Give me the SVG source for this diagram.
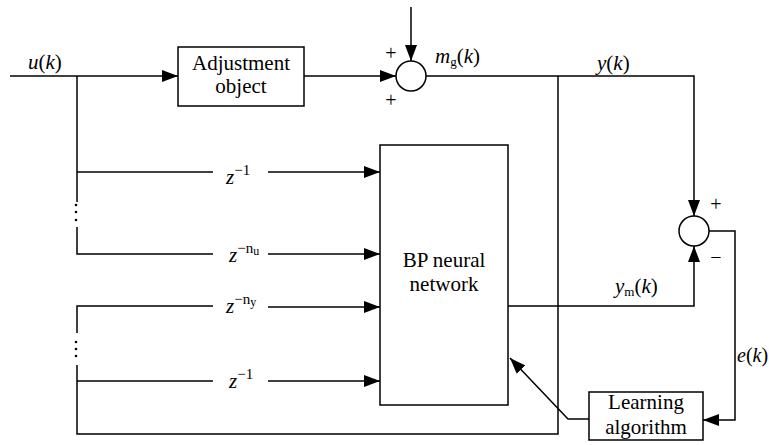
<svg xmlns="http://www.w3.org/2000/svg" width="769" height="445" viewBox="0 0 769 445">
<defs>
<marker id="arr" markerWidth="16" markerHeight="12" refX="16" refY="6" orient="auto" markerUnits="userSpaceOnUse">
<path d="M0,0 L16,6 L0,12 z" fill="#000"/>
</marker>
<style>
.ln{fill:none;stroke:#000;stroke-width:1.5}
.bx{fill:#fff;stroke:#000;stroke-width:1.5}
.t{font-size:21px}
.m{font-size:21px;font-style:italic}
.p{font-size:20px}
.dot{fill:#000}
</style>
</defs>
<rect width="769" height="445" fill="#fff"/>
<g id="connectors">
<polyline class="ln" points="10,76 178,76" marker-end="url(#arr)"/>
<line class="ln" x1="304" y1="76" x2="396" y2="76" marker-end="url(#arr)"/>
<line class="ln" x1="411" y1="7" x2="411" y2="61" marker-end="url(#arr)"/>
<polyline class="ln" points="426,76 694,76 694,216" marker-end="url(#arr)"/>
<polyline class="ln" points="558,76 558,434 77,434 77,365"/>
<polyline class="ln" points="77,76 77,202"/>
<polyline class="ln" points="77,227 77,254 213,254"/>
<line class="ln" x1="77" y1="172" x2="213" y2="172"/>
<line class="ln" x1="268" y1="172" x2="380" y2="172" marker-end="url(#arr)"/>
<line class="ln" x1="268" y1="254" x2="380" y2="254" marker-end="url(#arr)"/>
<polyline class="ln" points="77,333 77,306 213,306"/>
<line class="ln" x1="268" y1="307" x2="380" y2="307" marker-end="url(#arr)"/>
<line class="ln" x1="77" y1="381" x2="213" y2="381"/>
<line class="ln" x1="268" y1="381" x2="380" y2="381" marker-end="url(#arr)"/>
<polyline class="ln" points="508,306 694,306 694,246" marker-end="url(#arr)"/>
<polyline class="ln" points="709,231 735,231 735,420 703,420" marker-end="url(#arr)"/>
<polyline class="ln" points="589,419 568,419 510,358" marker-end="url(#arr)"/>
<circle class="dot" cx="76" cy="205" r="1.3"/>
<circle class="dot" cx="76" cy="212" r="1.3"/>
<circle class="dot" cx="76" cy="220" r="1.3"/>
<circle class="dot" cx="76" cy="342" r="1.3"/>
<circle class="dot" cx="76" cy="349" r="1.3"/>
<circle class="dot" cx="76" cy="356" r="1.3"/>
</g>
<g font-family="Liberation Serif, Tinos, DejaVu Serif, serif" fill="#000">
<g id="adjustment">
<rect class="bx" x="178" y="47" width="126" height="59"/>
<text class="t" x="241" y="70" text-anchor="middle">Adjustment</text>
<text class="t" x="241" y="93" text-anchor="middle">object</text>
</g>
<g id="sum1">
<circle class="bx" cx="411" cy="76" r="15"/>
<text class="p" x="391" y="60" text-anchor="middle">+</text>
<text class="p" x="391" y="107" text-anchor="middle">+</text>
</g>
<g id="bp">
<rect class="bx" x="380" y="145" width="128" height="260"/>
<text class="t" x="444" y="267" text-anchor="middle">BP neural</text>
<text class="t" x="444" y="291" text-anchor="middle">network</text>
</g>
<g id="sum2">
<circle class="bx" cx="694" cy="231" r="15"/>
<text class="p" x="716" y="211" text-anchor="middle">+</text>
<text class="p" x="716" y="264" text-anchor="middle">−</text>
</g>
<g id="learning">
<rect class="bx" x="589" y="392" width="114" height="48"/>
<text class="t" x="646" y="409" text-anchor="middle">Learning</text>
<text class="t" x="646" y="434" text-anchor="middle">algorithm</text>
</g>
<g id="labels">
<text class="t" x="28" y="69"><tspan font-style="italic">u</tspan>(<tspan font-style="italic">k</tspan>)</text>
<text class="t" x="435" y="63"><tspan font-style="italic">m</tspan><tspan font-size="13" dy="3">g</tspan><tspan dy="-3">(</tspan><tspan font-style="italic">k</tspan>)</text>
<text class="t" x="597" y="70"><tspan font-style="italic">y</tspan>(<tspan font-style="italic">k</tspan>)</text>
<text class="t" x="615" y="293"><tspan font-style="italic">y</tspan><tspan font-size="13" dy="3">m</tspan><tspan dy="-3">(</tspan><tspan font-style="italic">k</tspan>)</text>
<text x="737" y="362" font-size="20"><tspan font-style="italic">e</tspan>(<tspan font-style="italic">k</tspan>)</text>
<text class="m" x="226" y="184">z<tspan font-size="15" font-style="normal" dy="-9">−1</tspan></text>
<text class="m" x="229" y="262">z<tspan font-size="15" font-style="normal" dy="-9">−n</tspan><tspan font-size="12" font-style="normal" dy="2">u</tspan></text>
<text class="m" x="226" y="313">z<tspan font-size="15" font-style="normal" dy="-9">−n</tspan><tspan font-size="12" font-style="normal" dy="2">y</tspan></text>
<text class="m" x="229" y="388">z<tspan font-size="15" font-style="normal" dy="-9">−1</tspan></text>
</g>
</g>
</svg>
